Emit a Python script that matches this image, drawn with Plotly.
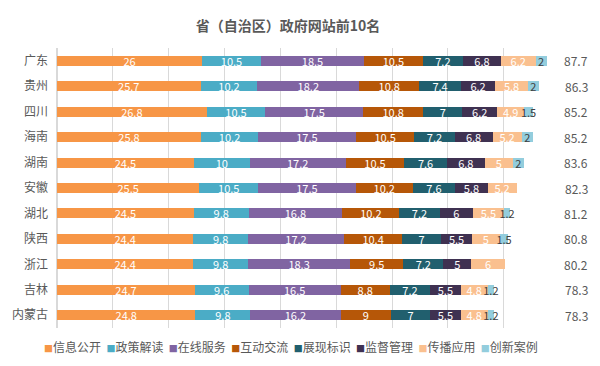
import plotly.graph_objects as go

provinces = ["广东", "贵州", "四川", "海南", "湖南", "安徽", "湖北", "陕西", "浙江", "吉林", "内蒙古"]
series_names = ["信息公开", "政策解读", "在线服务", "互动交流", "展现标识", "监督管理", "传播应用", "创新案例"]
info_open = [26, 25.7, 26.8, 25.8, 24.5, 25.5, 24.5, 24.4, 24.4, 24.7, 24.8]
policy = [10.5, 10.2, 10.5, 10.2, 10, 10.5, 9.8, 9.8, 9.8, 9.6, 9.8]
online = [18.5, 18.2, 17.5, 17.5, 17.2, 17.5, 16.8, 17.2, 18.3, 16.5, 16.2]
interact = [10.5, 10.8, 10.8, 10.5, 10.5, 10.2, 10.2, 10.4, 9.5, 8.8, 9]
display = [7.2, 7.4, 7, 7.2, 7.6, 7.6, 7.2, 7, 7.2, 7.2, 7]
supervise = [6.8, 6.2, 6.2, 6.8, 6.8, 5.8, 6, 5.5, 5, 5.5, 5.5]
spread = [6.2, 5.8, 4.9, 5.2, 5, 5.2, 5.5, 5, 6, 4.8, 4.8]
innovate = [2, 2, 1.5, 2, 2, 0, 1.2, 1.5, 0, 1.2, 1.2]
totals = [87.7, 86.3, 85.2, 85.2, 83.6, 82.3, 81.2, 80.8, 80.2, 78.3, 78.3]

all_values = [info_open, policy, online, interact, display, supervise, spread, innovate]
colors = ["#F79646", "#4BACC6", "#8064A2", "#B65708", "#215F6E", "#3F3151", "#FAC08F", "#93CDDD"]
text_colors = ["white"] * 7 + ["#404040"]

FONT = "Noto Sans CJK SC"

# The page body has an 8px margin, so the figure is 8px smaller and shifted.
OFF = 8
W, H = 600 - OFF, 366 - OFF
ML, MT = 57 - OFF, 48 - OFF
plot_right = 554.5 - OFF
plot_bottom = 327.7 - OFF
MR, MB = W - plot_right, H - plot_bottom
pw, ph = plot_right - ML, plot_bottom - MT

fig = go.Figure()
for name, vals, col, tcol in zip(series_names, all_values, colors, text_colors):
    fig.add_trace(go.Bar(
        name=name, y=provinces, x=vals, orientation="h",
        marker=dict(color=col, line=dict(width=0)),
        text=[("%g" % v) if v else "" for v in vals],
        texttemplate="%{text}",
        textposition="inside", insidetextanchor="middle", textangle=0,
        constraintext="none",
        textfont=dict(color=tcol, size=11, family=FONT),
        width=0.39, hoverinfo="skip", showlegend=False,
    ))

annotations = []
for p, t in zip(provinces, totals):
    annotations.append(dict(
        xref="paper", yref="y", x=(577 - OFF - ML) / pw, y=p, text="%g" % t,
        showarrow=False, xanchor="center", yanchor="middle",
        font=dict(size=12, color="#595959", family=FONT),
    ))

legend_text = "&nbsp;&nbsp;".join(
    "<span style='color:%s;font-size:9px'>■</span>%s" % (c, n) for c, n in zip(colors, series_names)
)
annotations.append(dict(
    xref="paper", yref="paper", x=(291 - OFF - ML) / pw, y=(plot_bottom - (346 - OFF)) / ph,
    text=legend_text, showarrow=False, xanchor="center", yanchor="middle",
    font=dict(size=12, color="#595959", family=FONT),
))

fig.update_layout(
    barmode="stack",
    width=W, height=H,
    margin=dict(l=ML, r=MR, t=MT, b=MB, autoexpand=False),
    paper_bgcolor="white", plot_bgcolor="white",
    font=dict(family=FONT, color="#595959"),
    title=dict(text="<b>省（自治区）政府网站前10名</b>", x=(288 - OFF) / W, xref="container",
               xanchor="center", y=1 - (26 - OFF) / H, yref="container", yanchor="middle",
               font=dict(size=14, color="#595959", family=FONT)),
    xaxis=dict(range=[0, 89], dtick=10, tick0=0, showgrid=True, gridcolor="#D9D9D9",
               gridwidth=1, showticklabels=False, zeroline=True, zerolinecolor="#D9D9D9",
               showline=False, fixedrange=True, automargin=False),
    yaxis=dict(autorange="reversed", showgrid=False, ticks="", ticklabelstandoff=8,
               tickfont=dict(size=12, color="#595959", family=FONT), showline=False,
               fixedrange=True, automargin=False),
    uniformtext=dict(minsize=11, mode="show"),
    annotations=annotations,
    showlegend=False,
)

fig.write_html("out.html")
